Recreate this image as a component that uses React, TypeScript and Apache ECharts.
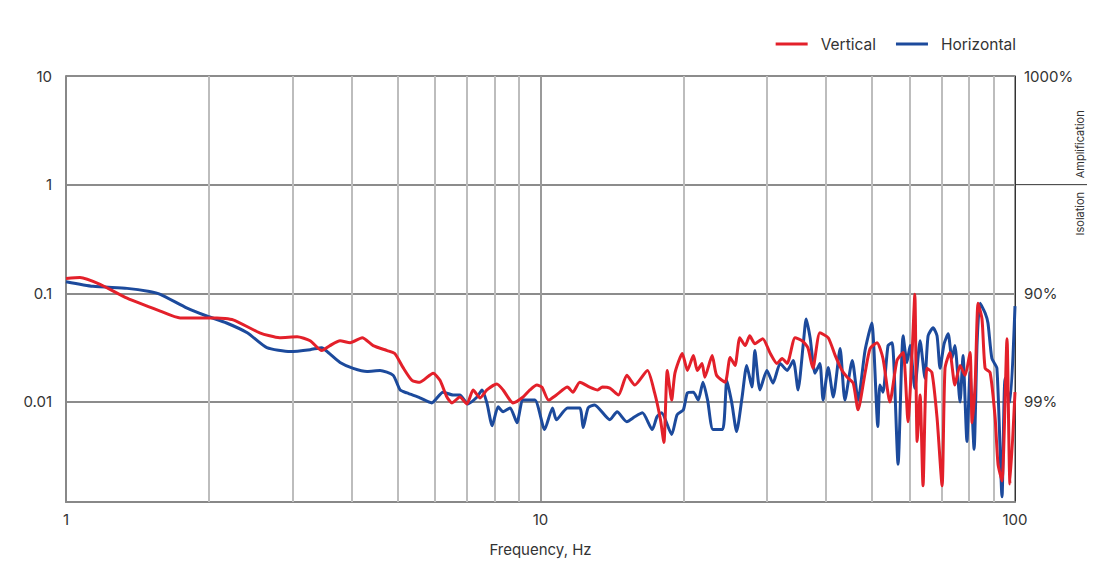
import React, { useEffect, useRef } from "react";
import * as echarts from "echarts";

const seriesNames = ["Vertical", "Horizontal"];
const seriesColors = ["#e3202a", "#1c4a9c"];

// [frequency Hz, transmissibility]
const verticalData: [number, number][] = [
  [1.0, 0.137], [1.07, 0.14], [1.18, 0.121], [1.345, 0.0901], [1.58, 0.0686], [1.74, 0.0593],
  [1.945, 0.0593], [2.08, 0.0593], [2.25, 0.0569], [2.56, 0.0433], [2.82, 0.039], [3.07, 0.0398],
  [3.27, 0.0366], [3.46, 0.0297], [3.6, 0.033], [3.78, 0.0366], [3.97, 0.0351], [4.21, 0.039],
  [4.44, 0.033], [4.75, 0.0297], [4.93, 0.0279], [5.13, 0.0208], [5.36, 0.0158], [5.57, 0.0152],
  [5.94, 0.0184], [6.14, 0.0158], [6.35, 0.0111], [6.51, 0.0098], [6.76, 0.0111], [7.0, 0.0096],
  [7.21, 0.0129], [7.46, 0.0109], [7.71, 0.0129], [8.09, 0.0146], [8.34, 0.0129], [8.75, 0.0098],
  [9.19, 0.0111], [9.5, 0.0129], [9.83, 0.0143], [10.07, 0.0137], [10.4, 0.0104], [10.8, 0.0116],
  [11.4, 0.0137], [11.7, 0.0123], [12.1, 0.0152], [12.7, 0.0137], [13.2, 0.0129], [13.5, 0.0137],
  [14.0, 0.0134], [14.6, 0.0116], [15.2, 0.0176], [15.8, 0.0143], [16.8, 0.0195], [17.4, 0.0121],
  [17.9, 0.00686], [18.2, 0.00424], [18.5, 0.0195], [18.9, 0.0104], [19.2, 0.0184], [19.9, 0.0279],
  [20.4, 0.0195], [21.0, 0.0267], [21.4, 0.0195], [21.9, 0.0226], [22.2, 0.0169], [23.0, 0.0267],
  [23.5, 0.0176], [24.5, 0.0152], [25.1, 0.0257], [25.7, 0.0217], [26.3, 0.039], [27.0, 0.033],
  [27.6, 0.0406], [28.3, 0.0344], [29.4, 0.0382], [30.5, 0.0279], [31.5, 0.0226], [32.3, 0.0251],
  [33.1, 0.0226], [34.4, 0.039], [35.6, 0.0366], [36.6, 0.0316], [37.5, 0.0204], [38.8, 0.0433],
  [40.4, 0.039], [41.8, 0.0267], [43.2, 0.0195], [44.3, 0.0169], [45.6, 0.0149], [46.7, 0.00846],
  [48.3, 0.0184], [49.5, 0.031], [51.2, 0.0351], [52.7, 0.0251], [54.5, 0.01], [56.4, 0.0241],
  [58.1, 0.0285], [59.5, 0.00658], [60.7, 0.0285], [61.5, 0.098], [62.2, 0.00433], [63.1, 0.0116],
  [64.0, 0.00169], [65.2, 0.0204], [66.8, 0.0187], [68.5, 0.00716], [70.2, 0.00169], [71.2, 0.0204],
  [72.9, 0.0285], [74.7, 0.0143], [76.6, 0.0217], [78.5, 0.0176], [80.4, 0.0285], [81.2, 0.00644],
  [82.4, 0.0143], [83.6, 0.0811], [85.2, 0.058], [86.5, 0.0204], [88.6, 0.0187], [90.8, 0.00716],
  [92.1, 0.00267], [93.9, 0.00187], [96.2, 0.0382], [97.6, 0.00176], [100, 0.0123],
];

const horizontalData: [number, number][] = [
  [1.0, 0.128], [1.14, 0.116], [1.345, 0.111], [1.5, 0.104], [1.58, 0.098], [1.8, 0.0731],
  [1.98, 0.0618], [2.18, 0.0533], [2.41, 0.0433], [2.65, 0.0316], [2.97, 0.0291], [3.27, 0.0303],
  [3.46, 0.0316], [3.57, 0.0285], [3.78, 0.0231], [4.03, 0.0204], [4.31, 0.0191], [4.59, 0.0195],
  [4.89, 0.0176], [5.06, 0.0129], [5.23, 0.0121], [5.57, 0.0109], [5.9, 0.0098], [6.23, 0.0123],
  [6.54, 0.0116], [6.76, 0.0116], [7.03, 0.0096], [7.35, 0.0111], [7.53, 0.0129], [7.71, 0.0098],
  [7.91, 0.00605], [8.14, 0.00901], [8.34, 0.00812], [8.63, 0.00882], [8.92, 0.00644], [9.19, 0.0104],
  [9.73, 0.0104], [10.2, 0.00557], [10.6, 0.00882], [10.8, 0.00686], [11.4, 0.00882], [12.1, 0.00882],
  [12.3, 0.00581], [12.6, 0.00882], [13.0, 0.00939], [14.0, 0.00686], [14.5, 0.00812], [15.2, 0.00658],
  [15.8, 0.00731], [16.4, 0.00794], [17.2, 0.00557], [17.6, 0.00731], [18.0, 0.00794], [18.9, 0.00502],
  [19.4, 0.00762], [20.0, 0.00846], [20.4, 0.0121], [21.0, 0.0123], [21.5, 0.0104], [22.0, 0.0152],
  [22.5, 0.0104], [23.1, 0.00557], [24.2, 0.00557], [24.7, 0.0158], [25.3, 0.0098], [25.9, 0.00534],
  [26.6, 0.0111], [27.2, 0.0217], [27.9, 0.0137], [28.3, 0.0297], [29.0, 0.0129], [30.0, 0.0195],
  [30.9, 0.0149], [32.0, 0.0226], [33.1, 0.0195], [34.1, 0.0241], [34.9, 0.0129], [35.8, 0.0344],
  [36.3, 0.058], [37.0, 0.039], [37.9, 0.0184], [38.8, 0.0226], [39.4, 0.0104], [40.4, 0.0208],
  [41.4, 0.0111], [42.8, 0.031], [43.8, 0.0104], [45.4, 0.0241], [46.7, 0.0104], [48.3, 0.0297],
  [49.9, 0.0533], [51.4, 0.00593], [51.9, 0.0143], [52.7, 0.0123], [54.0, 0.033], [55.1, 0.0351],
  [56.7, 0.00267], [58.1, 0.0406], [59.2, 0.0231], [60.1, 0.033], [61.5, 0.0134], [63.1, 0.0366],
  [64.6, 0.0165], [65.6, 0.0406], [67.2, 0.0481], [68.5, 0.0406], [69.5, 0.0204], [70.9, 0.0344],
  [72.3, 0.0424], [73.6, 0.0251], [74.7, 0.033], [76.6, 0.01], [77.7, 0.0267], [79.2, 0.00433],
  [80.4, 0.0187], [82.0, 0.00366], [83.2, 0.0351], [84.4, 0.0811], [86.5, 0.0658], [87.7, 0.0533],
  [89.4, 0.0251], [91.6, 0.0204], [93.9, 0.00134], [95.3, 0.0165], [97.6, 0.01], [100, 0.0762],
];

const minorGridFreqs = [2, 3, 4, 5, 6, 7, 8, 9, 20, 30, 40, 50, 60, 70, 80, 90];
const leftTickLabels: Record<string, string> = { "10": "10", "1": "1", "0.1": "0.1", "0.01": "0.01" };
const rightTickLabels: Record<string, string> = { "10": "1000%", "0.1": "90%", "0.01": "99%" };
const xTickLabels: Record<string, string> = { "1": "1", "10": "10", "100": "100" };
const xAxisName = "Frequency, Hz";
const amplificationLabel = "Amplification";
const isolationLabel = "Isolation";

const Y_MIN = 0.0012;
const Y_MAX = 10;

const keyOf = (v: number) => String(Number(v.toPrecision(6)));

export default function App() {
  const ref = useRef<HTMLDivElement>(null);
  useEffect(() => {
    if (!ref.current) return;
    const chart = echarts.init(ref.current, undefined, { renderer: "svg" });
    const font = "Inter, 'Noto Sans', sans-serif";
    chart.setOption({
      animation: false,
      textStyle: { fontFamily: font },
      legend: {
        right: 79,
        top: 31,
        icon: "rect",
        itemWidth: 32,
        itemHeight: 3,
        itemGap: 20,
        textStyle: { fontSize: 15.5, color: "#333", fontFamily: font, padding: [0, 0, 0, 8] },
        data: seriesNames,
      },
      grid: { left: 66, right: 85, top: 76, bottom: 69 },
      xAxis: {
        type: "log",
        logBase: 10,
        min: 1,
        max: 100,
        name: xAxisName,
        nameLocation: "middle",
        nameGap: 40,
        nameTextStyle: { fontSize: 15, color: "#333", fontFamily: font },
        axisLine: { show: true, lineStyle: { color: "#888", width: 2 } },
        axisTick: { show: false },
        axisLabel: {
          fontSize: 15,
          color: "#333",
          margin: 10,
          formatter: (v: number) => xTickLabels[keyOf(v)] ?? "",
        },
        splitLine: { show: true, lineStyle: { color: "#9a9a9a", width: 2 } },
      },
      yAxis: [
        {
          type: "log",
          logBase: 10,
          min: Y_MIN,
          max: Y_MAX,
          axisLine: { show: true, lineStyle: { color: "#888", width: 2 } },
          axisTick: { show: false },
          axisLabel: {
            fontSize: 15,
            color: "#333",
            margin: 14,
            formatter: (v: number) => leftTickLabels[keyOf(v)] ?? "",
          },
          splitLine: { show: true, lineStyle: { color: "#8c8c8c", width: 2 } },
        },
        {
          type: "log",
          logBase: 10,
          min: Y_MIN,
          max: Y_MAX,
          position: "right",
          axisLine: { show: true, lineStyle: { color: "#333", width: 1 } },
          axisTick: { show: false },
          axisLabel: {
            fontSize: 15,
            color: "#333",
            margin: 9,
            formatter: (v: number) => rightTickLabels[keyOf(v)] ?? "",
          },
          splitLine: { show: false },
        },
      ],
      series: [
        {
          name: seriesNames[0],
          type: "line",
          data: verticalData,
          showSymbol: false,
          smooth: 0.2,
          z: 4,
          lineStyle: { color: seriesColors[0], width: 3 },
          itemStyle: { color: seriesColors[0] },
          markLine: {
            silent: true,
            symbol: "none",
            label: { show: false },
            lineStyle: { color: "#bdbdbd", width: 2, type: "solid" },
            data: minorGridFreqs.map((f) => ({ xAxis: f })),
            z: 1,
          },
        },
        {
          name: seriesNames[1],
          type: "line",
          data: horizontalData,
          showSymbol: false,
          smooth: 0.2,
          z: 3,
          lineStyle: { color: seriesColors[1], width: 3 },
          itemStyle: { color: seriesColors[1] },
        },
      ],
    });
    const y1 = chart.convertToPixel({ yAxisIndex: 0 }, 1) as number;
    const x100 = chart.convertToPixel({ xAxisIndex: 0 }, 100) as number;
    const yTop = chart.convertToPixel({ yAxisIndex: 0 }, Y_MAX) as number;
    chart.setOption({
      graphic: [
        {
          type: "line",
          shape: { x1: x100, y1: y1, x2: x100 + 72, y2: y1 },
          style: { stroke: "#333", lineWidth: 1 },
          z: 10,
        },
        {
          type: "text",
          x: x100 + 65,
          y: (yTop + y1) / 2 + 14,
          rotation: Math.PI / 2,
          style: {
            text: amplificationLabel,
            fontSize: 11,
            fill: "#333",
            fontFamily: font,
            align: "center",
            verticalAlign: "middle",
          },
        },
        {
          type: "text",
          x: x100 + 65,
          y: y1 + 29,
          rotation: Math.PI / 2,
          style: {
            text: isolationLabel,
            fontSize: 11,
            fill: "#333",
            fontFamily: font,
            align: "center",
            verticalAlign: "middle",
          },
        },
      ],
    });
    return () => chart.dispose();
  }, []);
  return (
    <div
      ref={ref}
      style={{ position: "absolute", left: 0, top: 0, width: 1100, height: 571, background: "#fff" }}
    />
  );
}
